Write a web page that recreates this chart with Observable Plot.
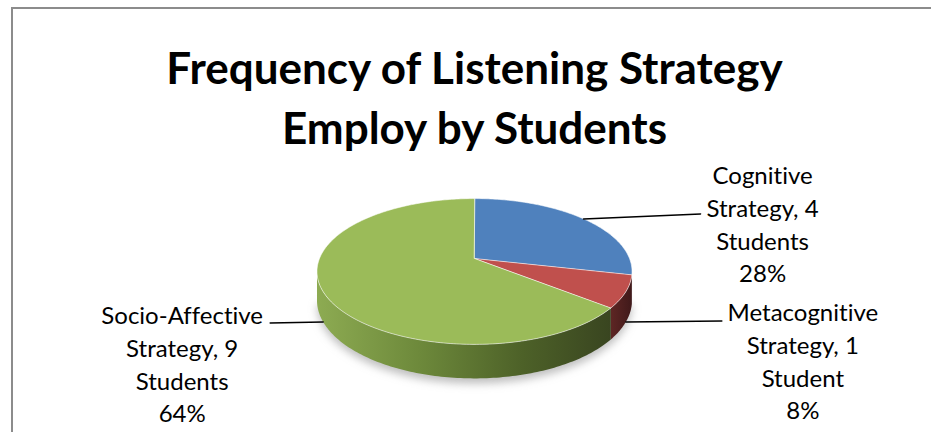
<!DOCTYPE html>
<html>
<head>
<meta charset="utf-8">
<script src="https://cdn.jsdelivr.net/npm/d3@7"></script>
<script src="https://cdn.jsdelivr.net/npm/@observablehq/plot@0.6"></script>
<style>
  html, body { margin: 0; padding: 0; background: #fff; overflow: hidden; }
  #wrap { position: relative; width: 931px; height: 432px; }
  #border { position: absolute; left: 11px; top: 7px; width: 1000px; height: 1000px;
            border: 2px solid #8c8c8c; box-sizing: border-box; pointer-events: none; }
  #chart { position: absolute; left: 0; top: 0; }
  svg text { font-variant-ligatures: none; font-feature-settings: "liga" 0, "clig" 0; }
</style>
</head>
<body>
<div id="wrap"><div id="chart"></div><div id="border"></div></div>
<script>
// ---- data ----
const categories = ["Cognitive", "Metacognitive", "Socio-Affective"];
const strategyWord = ["Strategy", "Strategy", "Strategy"];
const students = [4, 1, 9];
const unitWords = ["Students", "Student", "Students"];
const percentLabels = ["28%", "8%", "64%"];
const titleLines = ["Frequency of Listening Strategy", "Employ by Students"];

// ---- styles / layout ----
const topColors = ["#4f81bd", "#c0504d", "#9bbb59"];
const wallFills = ["url(#wallBlue)", "url(#wallRed)", "url(#wallGreen)"];
const W = 931, H = 432;
const cx = 474, cy = 258, pxU = 155, pxV = 70.6;
const D = 5.62, T = 0.396;
const labelOffset = [[179, 4], [177, 38], [-141, 41]];
const leaderEnd = [[117, -5], [96, -1], [-53, 1]];
const leaderOnBottom = [false, true, true];
const titleDy = [69, 129];

function proj(theta, r, h) {
  const X = r * Math.sin(theta), Z = -r * Math.cos(theta);
  const k = D / (D - Z);
  return {u: X * k, v: Z * k + h * T * k};
}
function arcPts(a0, a1, h) {
  const n = Math.max(2, Math.ceil((a1 - a0) / (Math.PI / 180)));
  const out = [];
  for (let j = 0; j <= n; j++) out.push(proj(a0 + (a1 - a0) * j / n, 1, h));
  return out;
}

const arcs = d3.pie().sort(null).startAngle(0).endAngle(2 * Math.PI)(students);
const vis0 = Math.acos(-1 / D), vis1 = 2 * Math.PI - vis0;

const marks = [];
marks.push(() => {
  const ns = "http://www.w3.org/2000/svg";
  const defs = document.createElementNS(ns, "defs");
  defs.innerHTML = `
    <linearGradient id="wallGreen" x1="0" x2="1" y1="0" y2="0">
      <stop offset="0" stop-color="#8dab52"/>
      <stop offset="0.35" stop-color="#6d893b"/>
      <stop offset="0.7" stop-color="#4d6128"/>
      <stop offset="1" stop-color="#394520"/>
    </linearGradient>
    <linearGradient id="wallRed" x1="0" x2="1" y1="0" y2="0">
      <stop offset="0" stop-color="#5e2624"/>
      <stop offset="1" stop-color="#40191a"/>
    </linearGradient>
    <linearGradient id="wallBlue" x1="0" x2="1" y1="0" y2="0">
      <stop offset="0" stop-color="#2f507a"/>
      <stop offset="1" stop-color="#27446a"/>
    </linearGradient>
    <filter id="soft" x="-20%" y="-20%" width="140%" height="140%">
      <feGaussianBlur stdDeviation="4"/>
    </filter>`;
  return defs;
});

// soft shadow under the pie
const shadowPts = [...arcPts(vis0, vis1, 1.15)];
marks.push(Plot.line(shadowPts, {x: "u", y: "v", fill: "#a8a8a8", stroke: "none", curve: "linear-closed", fillOpacity: 0.75, className: "pieShadow"}));

// outer walls
arcs.forEach((a, i) => {
  const s0 = Math.max(a.startAngle, vis0), s1 = Math.min(a.endAngle, vis1);
  if (s1 <= s0) return;
  const pts = [...arcPts(s0, s1, 0), ...arcPts(s0, s1, 1).reverse()];
  marks.push(Plot.line(pts, {x: "u", y: "v", fill: wallFills[i], stroke: "none", curve: "linear-closed"}));
});

// top faces
arcs.forEach((a, i) => {
  const pts = [{u: 0, v: 0}, ...arcPts(a.startAngle, a.endAngle, 0)];
  marks.push(Plot.line(pts, {x: "u", y: "v", fill: topColors[i], stroke: "#ffffff", strokeOpacity: 0.55, strokeWidth: 1, curve: "linear-closed"}));
});

// leader lines and labels
arcs.forEach((a, i) => {
  const mid = (a.startAngle + a.endAngle) / 2;
  const p = proj(mid, 1, leaderOnBottom[i] ? 1 : 0);
  const e = {u: p.u + leaderEnd[i][0] / pxU, v: p.v + leaderEnd[i][1] / pxV};
  marks.push(Plot.line([p, e], {x: "u", y: "v", stroke: "#000", strokeWidth: 1.5}));
  const text = `${categories[i]}\n${strategyWord[i]}, ${students[i]}\n${unitWords[i]}\n${percentLabels[i]}`;
  marks.push(Plot.text([p], {x: "u", y: "v", text: () => text, dx: labelOffset[i][0], dy: labelOffset[i][1],
    fontSize: 24, lineHeight: 1.36, textAnchor: "middle", lineAnchor: "middle", fill: "#000"}));
});

// title
titleLines.forEach((t, j) => {
  marks.push(Plot.text([{u: 0}], {x: "u", frameAnchor: "top", text: () => t,
    fontSize: 44, fontWeight: "bold", lineAnchor: "middle", dy: titleDy[j], textAnchor: "middle", fill: "#000"}));
});

const chart = Plot.plot({
  width: W, height: H, margin: 0,
  style: {fontFamily: "Lato, sans-serif", background: "transparent"},
  x: {axis: null, domain: [-cx / pxU, (W - cx) / pxU], range: [0, W]},
  y: {axis: null, domain: [-cy / pxV, (H - cy) / pxV], range: [0, H]},
  marks
});
chart.querySelectorAll(".pieShadow").forEach(g => g.setAttribute("filter", "url(#soft)"));
document.getElementById("chart").appendChild(chart);
</script>
</body>
</html>
